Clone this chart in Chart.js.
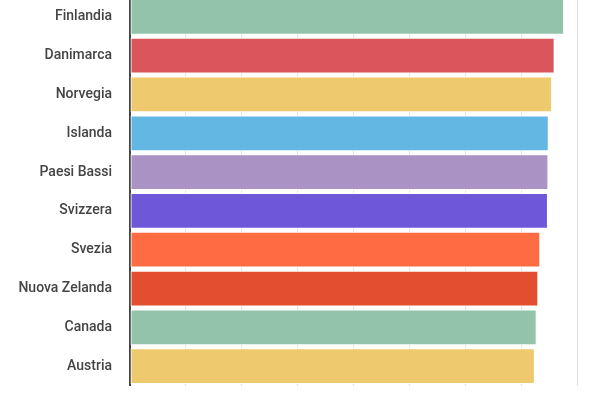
<!DOCTYPE html>
<html><head><meta charset="utf-8">
<script src="https://cdn.jsdelivr.net/npm/chart.js@4"></script>
<style>
html,body{margin:0;padding:0;width:600px;height:400px;overflow:hidden;background:#fff}
#c{position:absolute;left:0;top:-21px;width:600px;height:425px}
</style></head><body>
<canvas id="c" width="600" height="425"></canvas>
<script>
const categories=["Finlandia","Danimarca","Norvegia","Islanda","Paesi Bassi","Svizzera","Svezia","Nuova Zelanda","Canada","Austria"];
const values=[7.769,7.600,7.554,7.494,7.488,7.480,7.343,7.307,7.278,7.246];
const colors=["#93c3a8","#db555c","#efc96e","#62b7e3","#aa92c4","#6e57d8","#fd6c43","#e24e2f","#93c3a8","#efc96e"];
new Chart(document.getElementById('c'),{
type:'bar',
data:{labels:categories,datasets:[{data:values,backgroundColor:colors,borderColor:'#fff',borderWidth:1,borderSkipped:false,categoryPercentage:0.92,barPercentage:1}]},
options:{indexAxis:'y',responsive:false,animation:false,
layout:{padding:{left:0,right:23,top:0,bottom:0}},
plugins:{legend:{display:false},tooltip:{enabled:false}},
scales:{
x:{min:0,max:8,afterFit:s=>{s.height=0;},ticks:{stepSize:1,display:false},grid:{color:'#e3e3e3',drawTicks:false},border:{display:false}},
y:{afterFit:s=>{s.width=130;},grid:{display:false},border:{color:'#444',width:2},
ticks:{color:'#444',padding:10,font:{family:'Roboto',size:14,weight:'500'}}}
}}});
</script></body></html>
